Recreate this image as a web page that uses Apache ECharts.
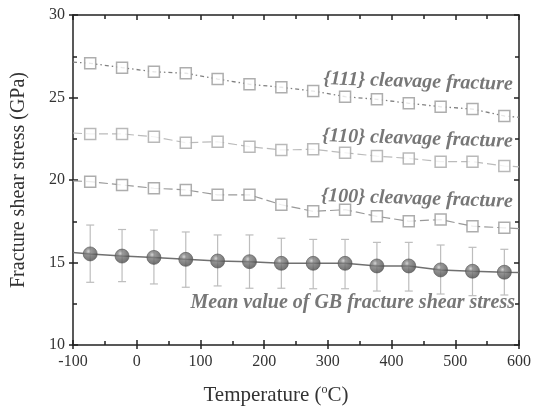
<!DOCTYPE html>
<html>
<head>
<meta charset="utf-8">
<script src="https://cdn.jsdelivr.net/npm/echarts@6/dist/echarts.min.js"></script>
<style>html,body{margin:0;padding:0;background:#fff}#c{width:533px;height:406px}</style>
</head>
<body>
<div id="c"></div>
<script>
// Temperatures (°C)
var temps = [-73, -23, 27, 77, 127, 177, 227, 277, 327, 377, 427, 477, 527, 577];
// {111} cleavage fracture
var s111 = [27.07, 26.81, 26.56, 26.47, 26.12, 25.80, 25.62, 25.39, 25.05, 24.89, 24.65, 24.44, 24.30, 23.88];
// {110} cleavage fracture
var s110 = [22.79, 22.79, 22.62, 22.26, 22.32, 22.02, 21.82, 21.86, 21.65, 21.45, 21.31, 21.11, 21.11, 20.85];
// {100} cleavage fracture
var s100 = [19.90, 19.70, 19.50, 19.40, 19.10, 19.10, 18.50, 18.10, 18.20, 17.80, 17.50, 17.60, 17.20, 17.10];
// Mean value of GB fracture shear stress
var gbMean = [15.52, 15.39, 15.31, 15.19, 15.09, 15.05, 14.95, 14.95, 14.95, 14.79, 14.79, 14.55, 14.47, 14.41];
var gbHigh = [17.27, 17.00, 16.97, 16.85, 16.67, 16.67, 16.47, 16.40, 16.40, 16.22, 16.22, 16.06, 15.92, 15.80];
var gbLow  = [13.80, 13.84, 13.70, 13.50, 13.58, 13.44, 13.44, 13.41, 13.41, 13.27, 13.27, 13.09, 12.99, 13.03];
// line values at the frame edges (x = -100 and x = 600)
var edgeX = [-100, 600];
var edge111 = [27.15, 23.80];
var edge110 = [22.85, 20.80];
var edge100 = [19.95, 17.05];
var edgeGB = [15.60, 14.40];
// axis ticks
var xTicks = [-100, 0, 100, 200, 300, 400, 500, 600];
var yTicks = [10, 15, 20, 25, 30];

function pairs(xs, ys) { return xs.map(function (x, i) { return [x, ys[i]]; }); }
function withEdges(vals, edges) {
  return [[edgeX[0], edges[0]]].concat(pairs(temps, vals)).concat([[edgeX[1], edges[1]]]);
}

var serif = 'Liberation Serif, Times New Roman, serif';
var chart = echarts.init(document.getElementById('c'), null, {renderer: 'canvas'});

var gridCfg = {left: 73, right: 14, top: 15, bottom: 61, containLabel: false, outerBoundsMode: 'none'};
var lineOn = {show: true, onZero: false, lineStyle: {color: '#222', width: 1.5}};
var lineOff = {show: false, onZero: false};
function xAx(extra) {
  return Object.assign({
    type: 'value', min: xTicks[0], max: xTicks[xTicks.length - 1], interval: 100,
    splitLine: {show: false}, axisLine: lineOn
  }, extra);
}
function yAx(extra) {
  return Object.assign({
    type: 'value', min: yTicks[0], max: yTicks[yTicks.length - 1], interval: 5,
    splitLine: {show: false}, axisLine: lineOn
  }, extra);
}
var tickIn = {show: true, inside: true, length: 5, lineStyle: {color: '#222', width: 1.5}};
var tickOut = {show: true, inside: false, length: 4, lineStyle: {color: '#222', width: 1.5}};
var minorIn = {show: true, splitNumber: 2, length: 4, lineStyle: {color: '#222', width: 1.5}};

var option = {
  animation: false,
  backgroundColor: '#fff',
  grid: gridCfg,
  xAxis: [
    xAx({
      position: 'bottom',
      name: 'Temperature ({s|o}C)', nameLocation: 'middle', nameGap: 39,
      nameTextStyle: {fontFamily: serif, fontSize: 21, color: '#333', padding: [0, 40, 0, 0],
        rich: {s: {fontFamily: serif, fontSize: 12, color: '#333', verticalAlign: 'top', padding: [0, 0, 10, 0]}}},
      axisTick: tickIn, minorTick: minorIn,
      axisLabel: {fontFamily: serif, fontSize: 16, color: '#333', margin: 9}
    }),
    xAx({position: 'bottom', axisLine: lineOff, axisTick: tickOut, axisLabel: {show: false}}),
    xAx({position: 'top', axisTick: tickIn, minorTick: minorIn, axisLabel: {show: false}})
  ],
  yAxis: [
    yAx({
      position: 'left',
      name: 'Fracture shear stress (GPa)', nameLocation: 'middle', nameGap: 44,
      nameTextStyle: {fontFamily: serif, fontSize: 20, color: '#333'},
      axisTick: tickIn, minorTick: minorIn,
      axisLabel: {fontFamily: serif, fontSize: 16, color: '#333', margin: 8}
    }),
    yAx({position: 'left', axisLine: lineOff, axisTick: tickOut, axisLabel: {show: false}}),
    yAx({position: 'right', axisTick: tickIn, minorTick: minorIn, axisLabel: {show: false}})
  ],
  graphic: [
    {type: 'text', right: 20, top: 69, rotation: -0.03,
      style: {text: '{111} cleavage fracture', font: 'italic bold 20px ' + serif, fill: '#777'}},
    {type: 'text', right: 20, top: 126, rotation: -0.03,
      style: {text: '{110} cleavage fracture', font: 'italic bold 20px ' + serif, fill: '#777'}},
    {type: 'text', right: 20, top: 186, rotation: -0.03,
      style: {text: '{100} cleavage fracture', font: 'italic bold 20px ' + serif, fill: '#777'}},
    {type: 'text', right: 18, top: 293,
      style: {text: 'Mean value of GB fracture shear stress', font: 'italic bold 20px ' + serif, fill: '#777'}}
  ],
  series: [
    // connecting lines
    {type: 'line', data: withEdges(s111, edge111), showSymbol: false, silent: true,
      lineStyle: {color: '#808080', width: 1.3, type: [4, 3, 1.5, 3, 1.5, 3]}},
    {type: 'line', data: withEdges(s110, edge110), showSymbol: false, silent: true,
      lineStyle: {color: '#bbb', width: 1.2, type: [9, 4]}},
    {type: 'line', data: withEdges(s100, edge100), showSymbol: false, silent: true,
      lineStyle: {color: '#999', width: 1.2, type: [9, 4]}},
    // error bars
    {type: 'custom', silent: true, z: 3,
      data: temps.map(function (t, i) { return [t, gbLow[i], gbHigh[i]]; }),
      renderItem: function (params, api) {
        var lo = api.coord([api.value(0), api.value(1)]);
        var hi = api.coord([api.value(0), api.value(2)]);
        var w = 4;
        var st = {stroke: '#bdbdbd', lineWidth: 1.2};
        return {type: 'group', children: [
          {type: 'line', shape: {x1: hi[0], y1: hi[1], x2: lo[0], y2: lo[1]}, style: st},
          {type: 'line', shape: {x1: hi[0] - w, y1: hi[1], x2: hi[0] + w, y2: hi[1]}, style: st},
          {type: 'line', shape: {x1: lo[0] - w, y1: lo[1], x2: lo[0] + w, y2: lo[1]}, style: st}
        ]};
      }},
    {type: 'line', data: withEdges(gbMean, edgeGB), showSymbol: false, silent: true, z: 4,
      lineStyle: {color: '#707070', width: 1.5}},
    // markers
    {type: 'scatter', data: pairs(temps, s111), symbol: 'rect', symbolSize: 11, z: 5,
      itemStyle: {color: '#fff', borderColor: '#9a9a9a', borderWidth: 1.5}},
    {type: 'scatter', data: pairs(temps, s110), symbol: 'rect', symbolSize: 11, z: 5,
      itemStyle: {color: '#fff', borderColor: '#a8a8a8', borderWidth: 1.5}},
    {type: 'scatter', data: pairs(temps, s100), symbol: 'rect', symbolSize: 11, z: 5,
      itemStyle: {color: '#fff', borderColor: '#999', borderWidth: 1.5}},
    {type: 'scatter', data: pairs(temps, gbMean), symbol: 'circle', symbolSize: 14, z: 6,
      itemStyle: {
        color: new echarts.graphic.RadialGradient(0.38, 0.32, 0.7, [
          {offset: 0, color: '#c8c8c8'}, {offset: 0.25, color: '#808080'}, {offset: 1, color: '#4a4a4a'}
        ]),
        borderColor: '#555', borderWidth: 0.8
      }}
  ]
};
chart.setOption(option);
</script>
</body>
</html>
